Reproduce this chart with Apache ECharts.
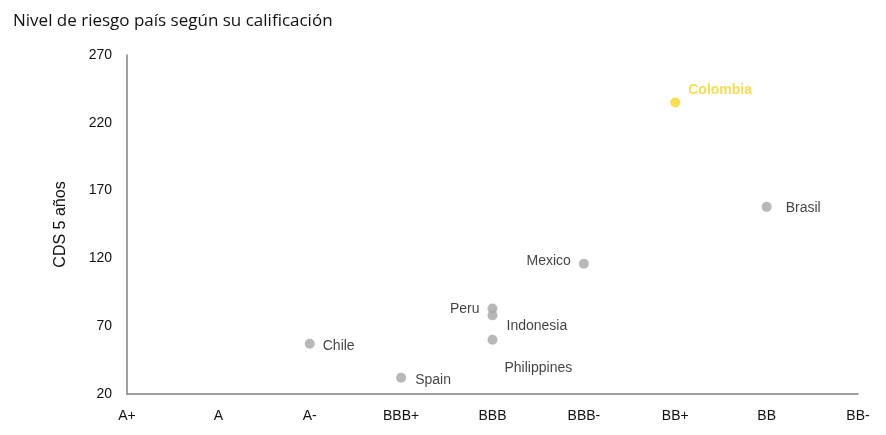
<!DOCTYPE html>
<html><head><meta charset="utf-8">
<script src="https://cdn.jsdelivr.net/npm/echarts@6/dist/echarts.min.js"></script>
<style>html,body{margin:0;padding:0;background:#fff}#c{width:886px;height:435px}</style>
</head><body><div id="c"></div>
<script>
const ratings = ['A+','A','A-','BBB+','BBB','BBB-','BB+','BB','BB-'];
const countries = ['Colombia','Brasil','Mexico','Peru','Indonesia','Philippines','Chile','Spain'];
const countryRating = ['BB+','BB','BBB-','BBB','BBB','BBB','A-','BBB+'];
const cds = [235, 158, 116, 83, 78, 60, 57, 32];
const yTicks = [20, 70, 120, 170, 220, 270];

const labelCfg = {
  Colombia: {position:'right', offset:[3,-12], color:'#F5D327', fontWeight:'bold'},
  Brasil: {position:'right', offset:[9,1]},
  Mexico: {position:'left', offset:[-3,-3]},
  Peru: {position:'left', offset:[-3,1]},
  Indonesia: {position:'right', offset:[4,11]},
  Philippines: {position:'right', offset:[2,28]},
  Chile: {position:'right', offset:[3,2]},
  Spain: {position:'right', offset:[4,2]}
};

const data = countries.map((n,i)=>{
  const lc = labelCfg[n];
  const isCol = n==='Colombia';
  return {
    name:n,
    value:[ratings.indexOf(countryRating[i]), cds[i]],
    itemStyle:{color: isCol ? '#F9D71C' : '#A8A6A4'},
    label:{show:true, formatter:n, position:lc.position, offset:lc.offset,
      color: lc.color || '#111', fontWeight: lc.fontWeight || 'normal',
      fontSize:14, fontFamily:'Liberation Sans, Arial, sans-serif'}
  };
});

const chart = echarts.init(document.getElementById('c'));
chart.setOption({
  animation:false,
  title:{text:'Nivel de riesgo país según su calificación', left:8, top:8,
    textStyle:{fontSize:17, fontWeight:'normal', color:'#111', fontFamily:'Open Sans, Noto Sans, sans-serif'}},
  grid:{left:127, right:28, top:55, bottom:41},
  xAxis:{type:'category', data:ratings, boundaryGap:false,
    axisLine:{lineStyle:{color:'#7f7f7f', width:1.5}},
    axisTick:{show:false},
    axisLabel:{color:'#111', fontSize:14, margin:15, fontFamily:'Liberation Sans, Arial, sans-serif'},
    splitLine:{show:false}},
  yAxis:{type:'value', min:yTicks[0], max:yTicks[yTicks.length-1], interval:50,
    name:'CDS 5 años', nameLocation:'middle', nameGap:58, nameRotate:90,
    nameTextStyle:{color:'#111', fontSize:16, fontFamily:'Liberation Sans, Arial, sans-serif'},
    axisLine:{show:true, lineStyle:{color:'#7f7f7f', width:1.5}},
    axisTick:{show:false},
    axisLabel:{color:'#111', fontSize:14, margin:15, fontFamily:'Liberation Sans, Arial, sans-serif'},
    splitLine:{show:false}},
  series:[{type:'scatter', symbolSize:10, data:data}]
});
</script></body></html>
